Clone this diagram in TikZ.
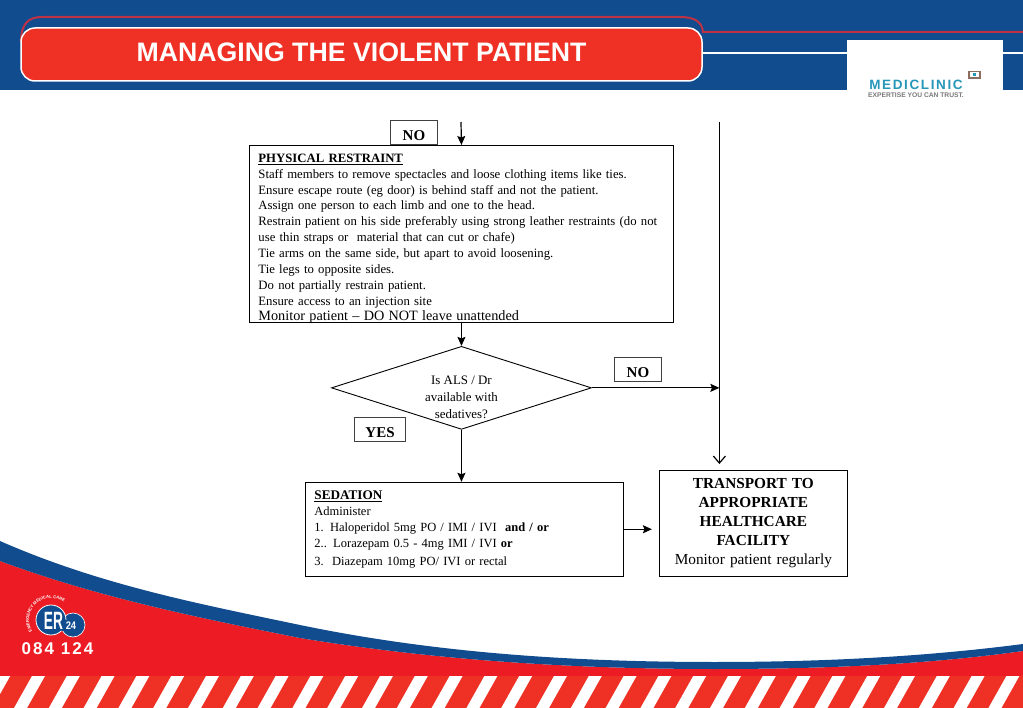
\documentclass[tikz,border=0pt]{standalone}
\usepackage{fontspec}
\setmainfont{Liberation Serif}
\newfontfamily\headfont{Liberation Sans}
\newfontfamily\logofont[LetterSpace=12]{Liberation Sans}
\usepackage{xcolor}
\usetikzlibrary{arrows.meta,positioning,shapes.geometric,decorations.text}
\definecolor{bandblue}{RGB}{16,76,142}
\definecolor{pillred}{RGB}{238,49,36}
\definecolor{footred}{RGB}{237,28,36}
\definecolor{linemaroon}{RGB}{190,50,70}
\definecolor{logoteal}{RGB}{38,150,185}
\definecolor{logogrey}{RGB}{120,120,120}
\definecolor{logobrown}{RGB}{140,110,95}
\tikzset{
  box/.style={rectangle, draw=black, fill=white, line width=0.9pt, inner ysep=0pt,
              inner xsep=9pt, align=left, anchor=north west},
  tag/.style={rectangle, draw=black!75, fill=white, line width=0.9pt, inner sep=0pt,
              minimum height=24pt, text height=16pt, text depth=0pt,
              font=\fontsize{15}{16}\selectfont\bfseries},
  decision/.style={diamond, draw=black, fill=white, line width=0.9pt, inner sep=0pt,
              minimum width=260pt, minimum height=83pt, aspect=3.13},
  arr/.style={-{Stealth[length=9pt,width=8pt,inset=1.5pt]}, line width=1.2pt, black},
  openarr/.style={-{Straight Barb[length=7pt,width=12pt]}, line width=1.2pt, black},
  pill/.style={rectangle, rounded corners=14pt, draw=white, fill=pillred, line width=1.5pt,
              minimum width=681pt, minimum height=53pt, text=white, text height=19pt, text depth=4pt,
              font=\headfont\fontsize{26.7}{28}\selectfont\bfseries},
}
\newcommand{\restraintsize}{\fontsize{12.75}{15.85}\selectfont}
\newcommand{\sedationsize}{\fontsize{12.5}{16}\selectfont}
\begin{document}
\begin{tikzpicture}[x=1pt,y=-1pt]
  \useasboundingbox (0,0) rectangle (1023,708);

  % header
  \fill[bandblue] (0,0) rectangle (1023,90);
  \draw[linemaroon, line width=2pt]
        (21,42) .. controls (21,24) and (28,17) .. (42,17) -- (680,17)
        .. controls (695,17) and (702,22) .. (703,32) -- (1023,32);
  \node[pill] (title) at (361.5,54.5) {MANAGING THE VIOLENT PATIENT};
  \coordinate (rule end) at (1023,53);
  \draw[white, line width=1.2pt] (title.east |- rule end) -- (rule end);
  \fill[white] (847,40) rectangle (1003,100);
  \node[font=\logofont\fontsize{13.5}{14}\selectfont\bfseries, text=logoteal, inner sep=0pt]
        (mediclinic) at (916,84.5) {MEDICLINIC};
  \node[font=\headfont\fontsize{6.7}{7}\selectfont\bfseries, text=logogrey, inner sep=0pt,
        below=3pt of mediclinic] (slogan) {EXPERTISE YOU CAN TRUST.};
  \draw[logobrown, line width=1.2pt] (969,71.5) rectangle (980,78);
  \fill[logoteal] (973,73.5) rectangle (976,76);

  % footer
  \fill[footred] (0,561) .. controls (100,598) and (200,618) .. (300,638)
        .. controls (440,661) and (580,669) .. (715,669)
        .. controls (830,669) and (930,664) .. (1023,651) -- (1023,676) -- (0,676) -- cycle;
  \fill[bandblue] (0,541) .. controls (100,585) and (200,604) .. (300,625)
        .. controls (440,654) and (580,662) .. (715,662)
        .. controls (830,662) and (930,656) .. (1023,644) -- (1023,651)
        .. controls (930,664) and (830,669) .. (715,669)
        .. controls (580,669) and (440,661) .. (300,638)
        .. controls (200,618) and (100,598) .. (0,561) -- cycle;
  \fill[pillred] (0,676) rectangle (1023,708);
  \begin{scope}
    \clip (0,676) rectangle (1023,708);
    \foreach \s in {-1,...,29}
      \fill[white] (32+34.8*\s,676) -- ++(13,0) -- ++(-18,32) -- ++(-13,0) -- cycle;
  \end{scope}
  \fill[bandblue, draw=white, line width=0.6pt] (73,625) circle[radius=12pt];
  \fill[bandblue, draw=white, line width=0.8pt] (51,620) circle[radius=15pt];
  \fill[bandblue] (63,625) circle[radius=6pt];
  \node[font=\headfont\fontsize{25}{26}\selectfont\bfseries, text=white, inner sep=0pt,
        xscale=0.55] (er) at (53.5,621) {ER};
  \node[font=\headfont\fontsize{11}{12}\selectfont\bfseries, text=white, inner sep=0pt,
        xscale=0.85] (ertwo) at (71,626) {24};
  \path[decorate, decoration={text along path, text align=center,
        text={|\headfont\fontsize{4.2}{5}\selectfont\bfseries\color{white}|EMERGENCY MEDICAL CARE}}]
        (36.9,636.9) arc[start angle=230, end angle=35, radius=22pt];
  \node[font=\logofont\fontsize{17}{18}\selectfont\bfseries, text=white, inner sep=0pt]
        (phone) at (57.5,649) {084 124};

  % flow
  \node[box, minimum width=424pt, minimum height=177pt, text width=406pt,
        font=\restraintsize] (restraint) at (249,145) {\rule{0pt}{15.5pt}%
{\bfseries\underline{PHYSICAL RESTRAINT}}\\
Staff members to remove spectacles and loose clothing items like ties.\\
Ensure escape route (eg door) is behind staff and not the patient.\\
Assign one person to each limb and one to the head.\\
Restrain patient on his side preferably using strong leather restraints (do not\\
use thin straps or\ \ material that can cut or chafe)\\
Tie arms on the same side, but apart to avoid loosening.\\
Tie legs to opposite sides.\\
Do not partially restrain patient.\\
Ensure access to an injection site\\
\raisebox{0pt}[\height][0pt]{\fontsize{14.25}{15.85}\selectfont Monitor patient -- DO NOT leave unattended}};
  \node[tag, minimum width=47pt, above=0pt of restraint.north west, anchor=south west, xshift=141pt] (notop) {NO};
  \coordinate (restraint in) at (461,122);
  \node[decision, below=23pt of restraint,
        label={[font=\fontsize{12.9}{17}\selectfont, align=center, yshift=-9.5pt]center:Is ALS / Dr\\available with\\sedatives?}] (decide) {};
  \node[tag, minimum width=47pt, anchor=south west] (noright) at (614,382) {NO};
  \node[tag, minimum width=51pt, anchor=north east] (yes) at (406,417) {YES};
  \node[box, minimum width=318pt, minimum height=94pt, text width=300pt, below=52pt of decide, xshift=3pt, anchor=north,
        font=\sedationsize] (sedation) {{\fontsize{13.2}{16}\selectfont\bfseries\underline{SEDATION}}\\
Administer\\
1. Haloperidol 5mg PO / IMI / IVI\ \ {\bfseries and / or}\\
2.. Lorazepam 0.5 - 4mg IMI / IVI {\bfseries or}\\[2pt]
3.\ \ Diazepam 10mg PO/ IVI or rectal};
  \node[box, minimum width=188pt, minimum height=106pt, inner xsep=0pt, right=35pt of sedation.south east, anchor=south west,
        align=center, text width=187pt, font=\fontsize{15.3}{19}\selectfont] (transport)
        {{\bfseries TRANSPORT TO\\APPROPRIATE\\HEALTHCARE\\FACILITY}\\Monitor patient regularly};
  \coordinate (side top) at (719.4,122);
  \coordinate (side end) at (719.4,464);

  \draw[arr] (restraint in) -- (restraint.north);
  \draw[arr] (restraint.south) -- (decide.north);
  \draw[arr] (decide.east) -- (decide.east -| side top);
  \draw[arr] (decide.south) -- (decide.south |- sedation.north);
  \draw[openarr] (side top) -- (side end);
  \draw[arr, shorten >=7pt] (sedation.east) -- (sedation.east -| transport.west);
\end{tikzpicture}
\end{document}
